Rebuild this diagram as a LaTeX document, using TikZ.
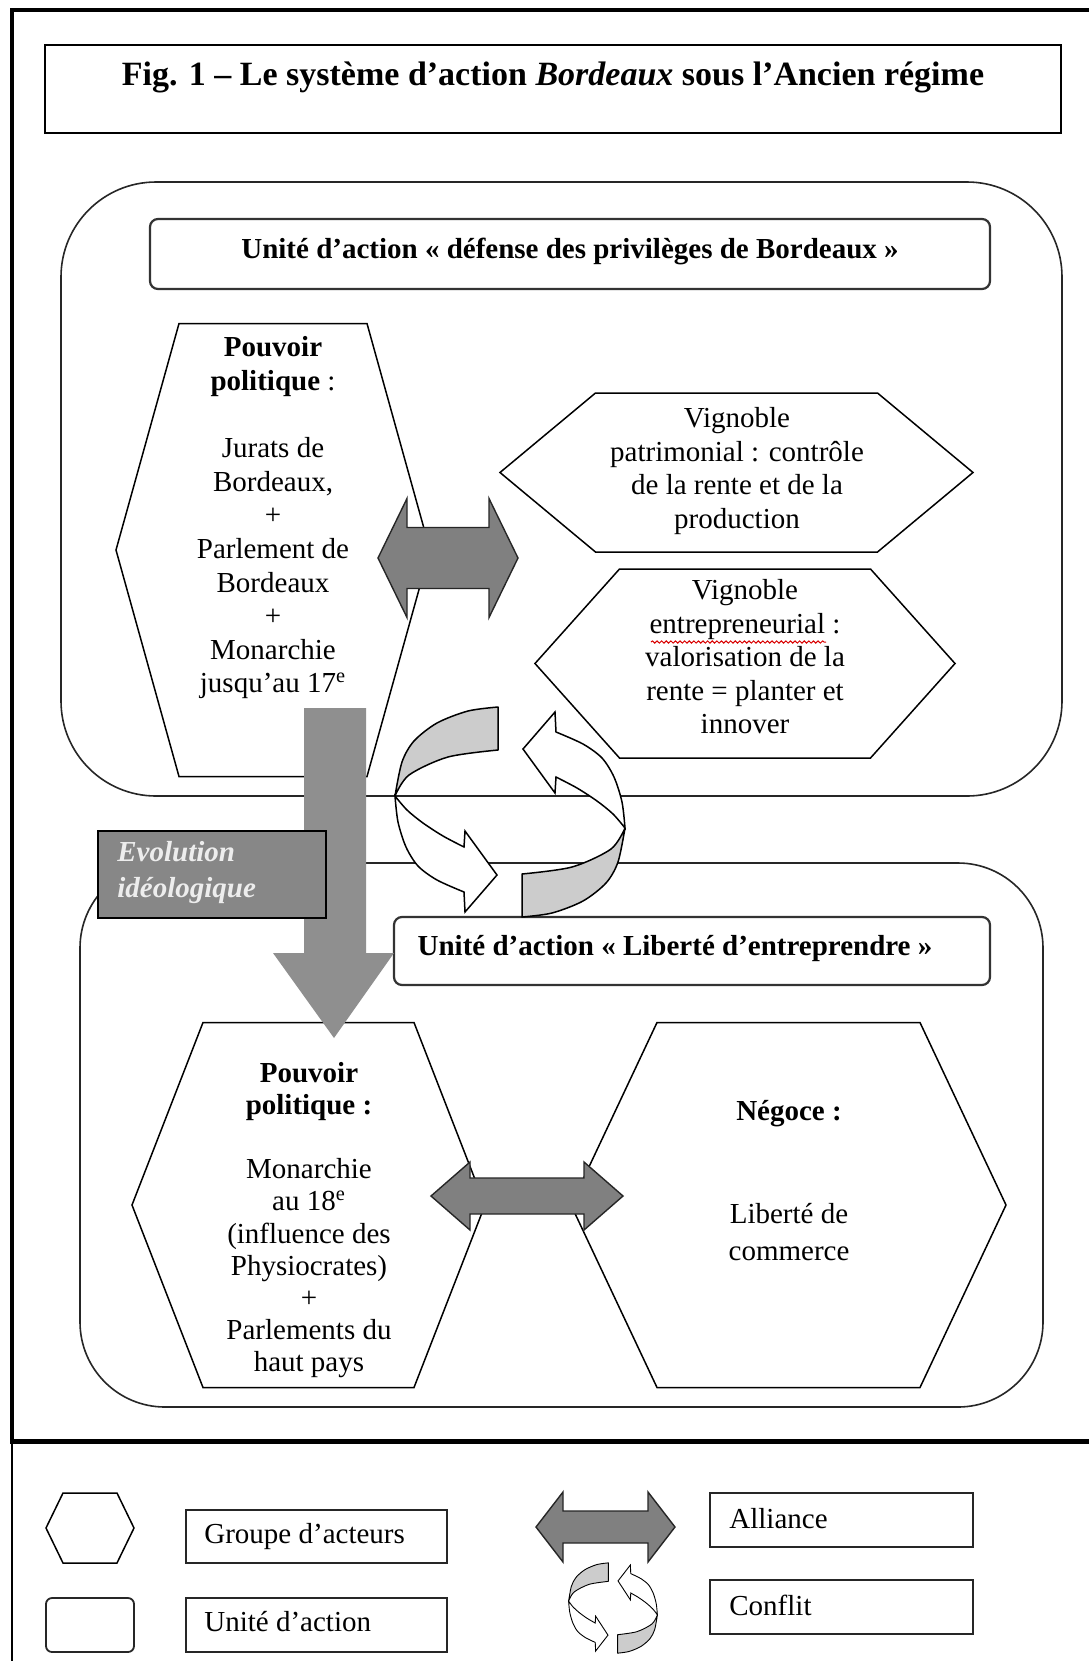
\documentclass[tikz,border=0pt]{standalone}
\usepackage{fontspec}
\setmainfont{Liberation Serif}
\usetikzlibrary{decorations.pathmorphing}

\definecolor{allygray}{gray}{0.50}
\definecolor{shaftgray}{gray}{0.56}
\definecolor{evobox}{gray}{0.53}
\definecolor{ribbon}{gray}{0.80}

\newcommand\bodyfont{\fontsize{14.5}{16.75}\selectfont}

% hexagon: name, cx, cy, half top edge, half width, half height
\newcommand\hexagonat[6]{%
  \coordinate (#1) at (#2,#3);
  \filldraw[hexline] (#2-#4,#3-#6) -- (#2+#4,#3-#6) -- (#2+#5,#3)
    -- (#2+#4,#3+#6) -- (#2-#4,#3+#6) -- (#2-#5,#3) -- cycle;}

% two-headed block arrow: name, cx, cy, half length, head length, head half height, shaft half height
\newcommand\alliancearrow[7]{%
  \coordinate (#1) at (#2,#3);
  \filldraw[alliance] (#2-#4,#3) -- (#2-#4+#5,#3-#6) -- (#2-#4+#5,#3-#7)
   -- (#2+#4-#5,#3-#7) -- (#2+#4-#5,#3-#6) -- (#2+#4,#3)
   -- (#2+#4-#5,#3+#6) -- (#2+#4-#5,#3+#7) -- (#2-#4+#5,#3+#7)
   -- (#2-#4+#5,#3+#6) -- cycle;}

\tikzset{
  hexline/.style={draw=black, fill=white, line width=0.75pt, line join=miter},
  alliance/.style={draw=black!85, fill=allygray, line width=0.7pt, line join=miter},
  ribbonback/.style={draw=black, fill=ribbon, line join=round},
  ribbonfront/.style={draw=black, fill=white, line join=miter},
  bigunit/.style={draw=black!85, line width=0.8pt, rounded corners=#1},
  unitbox/.style={draw=black!80, fill=white, line width=1.1pt, rounded corners=4pt},
  legbox/.style={draw=black!85, fill=white, line width=0.9pt},
  txt/.style={font=\bodyfont, align=center, inner sep=0pt},
  headtxt/.style={font=\bodyfont\bfseries, inner sep=0pt},
  titletxt/.style={font=\fontsize{17}{20}\selectfont\bfseries, inner sep=0pt},
  legtxt/.style={font=\bodyfont, inner sep=0pt, anchor=west},
  ribbonhalf/.pic={
    \filldraw[ribbonback] plot[smooth] coordinates {(-12,-105) (-42,-101) (-73,-89) (-96,-71) (-108,-50) (-115,-16)}
      -- plot[smooth] coordinates {(-115,-16) (-101,-37) (-62,-55) (-12,-62)} -- cycle;
    \filldraw[ribbonfront] plot[smooth] coordinates {(-115,-16) (-103,-2) (-87,11) (-67,24) (-46,35)}
      -- (-45,19) -- (-13,63) -- (-45,100)
      -- plot[smooth] coordinates {(-46,80) (-73,68) (-92,54) (-104,35) (-112,10) (-115,-16)} -- cycle;
  },
  conflict/.pic={\pic[transform shape] {ribbonhalf}; \pic[transform shape, rotate=180] {ribbonhalf};}
}

\begin{document}
\begin{tikzpicture}[x=0.5pt, y=-0.5pt]
\useasboundingbox (0,0) rectangle (1089,1661);
\fill[white] (0,0) rectangle (1089,1661);

% outer frame and legend separator
\draw[line width=1.7pt] (10,10) -- (1089,10);
\draw[line width=2.3pt] (12,9) -- (12,1442);
\draw[line width=2.3pt] (10,1441.5) -- (1089,1441.5);
\draw[line width=1pt] (12,1442) -- (12,1661);

% title
\draw[line width=1pt] (44.5,44.5) rectangle (1061,132.5);
\node[titletxt] (title) at (553,77) {Fig. 1 -- Le système d’action \textit{Bordeaux} sous l’Ancien régime};

% upper unit of action
\draw[bigunit=47.5pt] (61,182) rectangle (1062,796);
\draw[unitbox] (150,219) rectangle (990,289);
\node[headtxt] (uniteA) at (570,251) {Unité d’action «~défense des privilèges de Bordeaux~»};

\hexagonat{polA}{273}{550}{94}{157}{226.5}
\node[txt, font=\fontsize{14.5}{16.8}\selectfont] (polAtxt) at (273,518)
  {\textbf{Pouvoir}\\\textbf{politique} :\\[16.8pt]Jurats de\\Bordeaux,\\+\\Parlement de\\Bordeaux\\+\\Monarchie\\jusqu’au 17\textsuperscript{e}};

\hexagonat{vigP}{736.5}{472.5}{141}{236.5}{79.5}
\node[txt] (vigPtxt) at (737,471) {Vignoble\\patrimonial : contrôle\\de la rente et de la\\production};

\hexagonat{vigE}{745}{663.5}{125.5}{210}{94.5}
\node[txt] (vigEtxt) at (745,657) {Vignoble\\entrepreneurial :\\valorisation de la\\rente = planter et\\innover};
\draw[red!85!black, line width=0.5pt, decorate, decoration={snake, amplitude=0.55pt, segment length=2.3pt}] (651,642) -- (826,642);

\alliancearrow{allyA}{448}{558}{70}{29}{59.5}{30.5}

% lower unit of action
\draw[bigunit=42.5pt] (80,863) rectangle (1043,1407);
\draw[unitbox] (394,917) rectangle (990,985);
\node[headtxt] (uniteB) at (675,948) {Unité d’action «~Liberté d’entreprendre~»};

\hexagonat{polB}{308.5}{1205}{105.5}{176.5}{182.5}
\node[txt, font=\fontsize{14.5}{16.05}\selectfont] (polBtxt) at (309,1220)
  {\textbf{Pouvoir}\\\textbf{politique :}\\[16.05pt]Monarchie\\au 18\textsuperscript{e}\\(influence des\\Physiocrates)\\+\\Parlements du\\haut pays};

\hexagonat{nego}{788.5}{1205}{131.5}{217.5}{182.5}
\node[txt] (negoHead) at (789,1114) {\textbf{Négoce :}};
\node[txt, font=\fontsize{14.5}{18.5}\selectfont] (negoTxt) at (789,1232) {Liberté de\\commerce};

\alliancearrow{allyB}{527}{1196}{96}{39}{34}{18}

% ideological shift between the two units
\fill[shaftgray] (304,708) -- (366,708) -- (366,953) -- (394,953) -- (334,1038)
  -- (273,953) -- (304,953) -- cycle;
\draw[fill=evobox, line width=0.9pt] (98,831) rectangle (326,918);
\node[font=\fontsize{14.5}{18}\selectfont\bfseries\itshape, text=white!93!black,
  align=left, anchor=west, inner sep=0pt] (evo) at (117,873) {Evolution\\idéologique};

% conflict between the two units
\pic[line width=0.75pt] (conflictBig) at (510,812) {conflict};

% legend
\hexagonat{legHex}{90}{1528}{27}{44}{35}
\draw[draw=black!85, line width=0.9pt, rounded corners=3pt] (46,1598) rectangle (134,1652);
\draw[legbox] (186,1510) rectangle (447,1563);
\node[legtxt] (legGroupe) at (204,1537) {Groupe d’acteurs};
\draw[legbox] (186,1598) rectangle (447,1652);
\node[legtxt] (legUnite) at (204,1622) {Unité d’action};

\alliancearrow{legAlly}{605.5}{1527}{69.5}{27}{35}{16}
\pic[line width=0.45pt, xscale=0.386, yscale=0.43] (conflictLeg) at (613,1608) {conflict};

\draw[legbox] (710,1493) rectangle (973,1547);
\node[legtxt] (legAlliance) at (729,1519) {Alliance};
\draw[legbox] (710,1580) rectangle (973,1634);
\node[legtxt] (legConflit) at (729,1605) {Conflit};
\end{tikzpicture}
\end{document}
